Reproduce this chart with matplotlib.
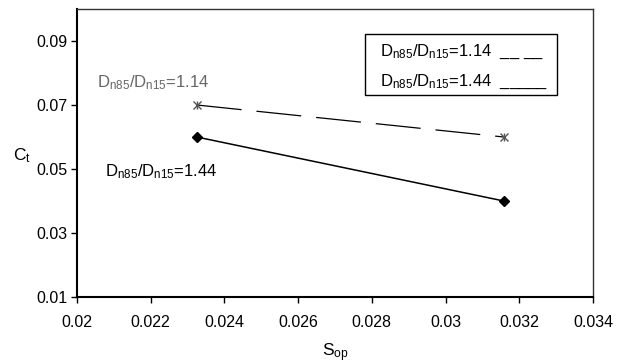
import matplotlib.pyplot as plt
from matplotlib.patches import Rectangle

plt.rcParams['font.family'] = ['Liberation Sans', 'DejaVu Sans']
plt.rcParams['mathtext.fontset'] = 'custom'
plt.rcParams['mathtext.rm'] = 'Liberation Sans'
plt.rcParams['mathtext.it'] = 'Liberation Sans'

# data
s_op = [0.02325, 0.03158]
ct_114 = [0.07, 0.06]
ct_144 = [0.06, 0.04]
x_ticks = [0.02, 0.022, 0.024, 0.026, 0.028, 0.03, 0.032, 0.034]
y_ticks = [0.01, 0.03, 0.05, 0.07, 0.09]

lab_114 = r'$\mathrm{D_{n85}}$/$\mathrm{D_{n15}}$=1.14'
lab_144 = r'$\mathrm{D_{n85}}$/$\mathrm{D_{n15}}$=1.44'

fig = plt.figure(figsize=(6.19, 3.64), dpi=100)
ax = fig.add_axes([77/619, 1 - 297/364, (593-77)/619, (297-9)/364])

ax.plot(s_op, ct_114, color='black', lw=0.9, dashes=(36, 12),
        marker='x', ms=6, mew=1.0, mec='#555555')
ax.plot(s_op, ct_114, ls='none', marker='|', ms=6, mew=1.0, mec='#555555')
ax.plot(s_op, ct_144, color='black', lw=1.1, marker='D', ms=5, mfc='black', mec='black')

ax.set_xlim(0.02, 0.034)
ax.set_ylim(0.01, 0.1)
ax.set_xticks(x_ticks)
ax.set_xticklabels(['0.02', '0.022', '0.024', '0.026', '0.028', '0.03', '0.032', '0.034'])
ax.set_yticks(y_ticks)
ax.set_yticklabels(['0.01', '0.03', '0.05', '0.07', '0.09'])
ax.tick_params(direction='out', length=4, width=1, labelsize=11.5, pad=3)
ax.tick_params(axis='x', pad=9)

for side in ['left', 'bottom']:
    ax.spines[side].set_linewidth(1.5)
for side in ['top', 'right']:
    ax.spines[side].set_linewidth(1.0)
    ax.spines[side].set_color('#333333')

# labels next to the lines
ax.text(0.02054, 0.0755, lab_114, color='#666666', fontsize=12, va='baseline')
ax.text(0.02076, 0.0478, lab_144, color='black', fontsize=12, va='baseline')

# legend box drawn by hand, like the original
fig.patches.append(Rectangle((365/619, 1 - 95/364), (557-365)/619, (95-34)/364,
                             transform=fig.transFigure, fill=False, ec='black', lw=1.0))
fig.text(380/619, 1 - 56/364, lab_114 + '  __ __', fontsize=12, va='baseline')
fig.text(380/619, 1 - 86/364, lab_144 + '  _____', fontsize=12, va='baseline')

fig.text(13/619, 1 - 156/364, r'$\mathrm{C_t}$', fontsize=12.5, va='center')
fig.text(335/619, 1 - 353/364, r'$\mathrm{S_{op}}$', fontsize=12.5, ha='center', va='center')

fig.savefig('out.png', dpi=100)
